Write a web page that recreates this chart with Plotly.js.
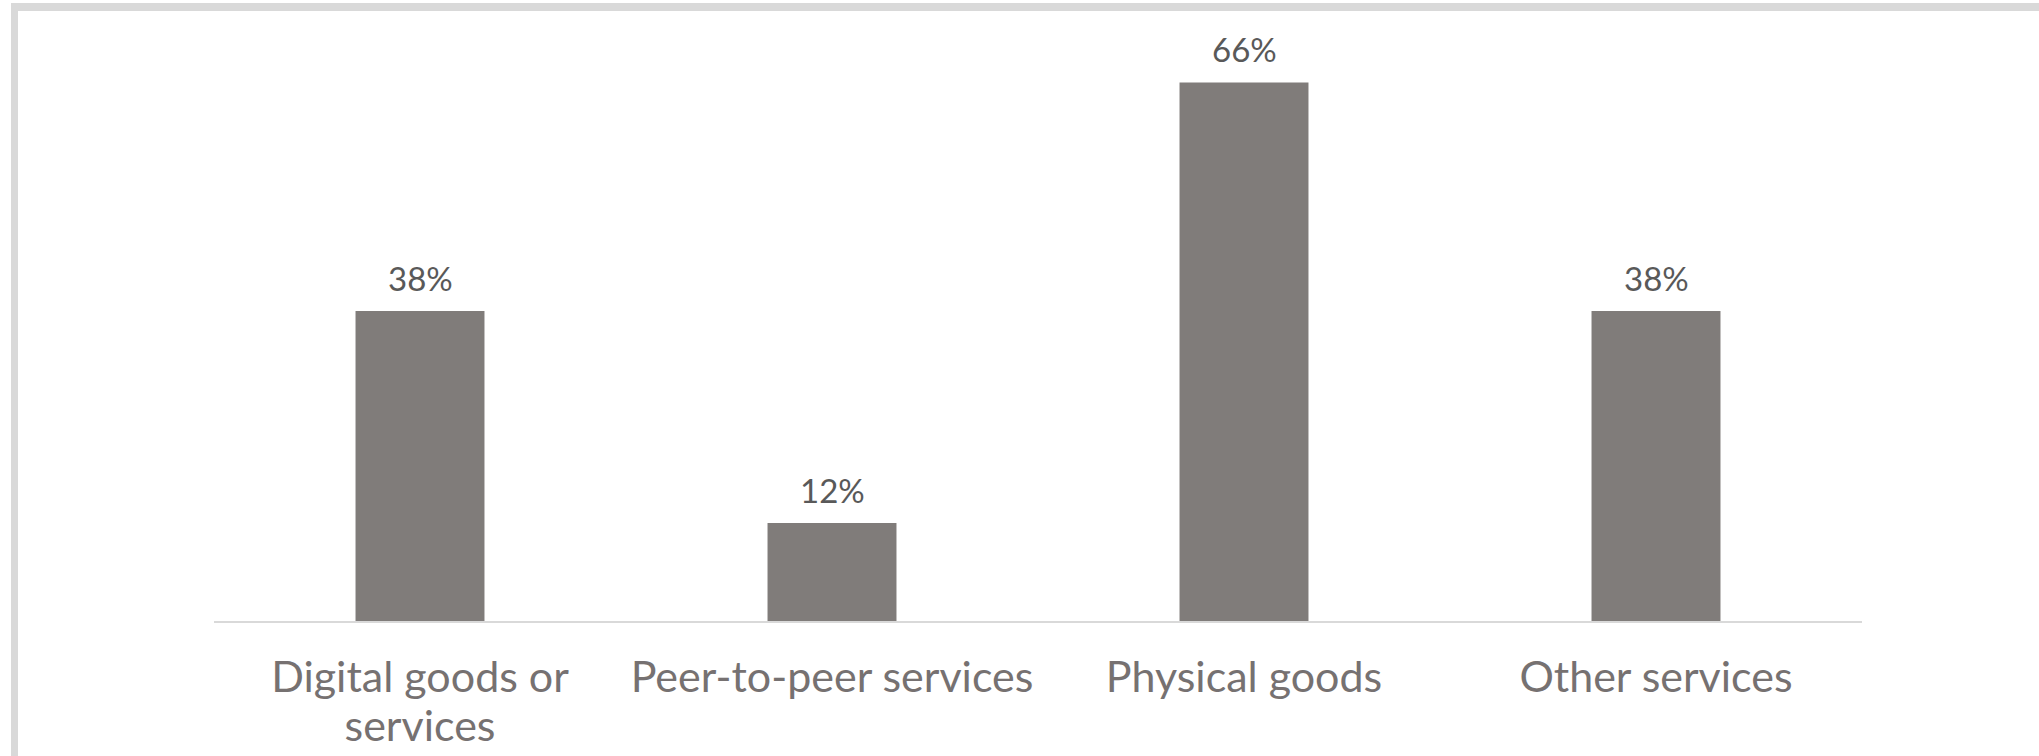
<!DOCTYPE html>
<html>
<head>
<meta charset="utf-8">
<script src="https://cdn.plot.ly/plotly-3.0.1.min.js"></script>
<style>
  html, body { margin: 0; padding: 0; background: #ffffff; overflow: hidden; }
  #chart { position: absolute; left: 0; top: 0; width: 2039px; height: 756px; }
  #frame {
    position: absolute; left: 11px; top: 3px; width: 2100px; height: 750px;
    border-left: 7px solid #d9d9d9; border-top: 8px solid #d9d9d9; border-bottom: 8px solid #d9d9d9;
    box-sizing: content-box; pointer-events: none;
  }
</style>
</head>
<body>
<div id="chart"></div>
<div id="frame"></div>
<script>
const categories = ["Digital goods or<br>services", "Peer-to-peer services", "Physical goods", "Other services"];
const values = [0.38, 0.12, 0.66, 0.38];
const valueLabels = ["38%", "12%", "66%", "38%"];

const trace = {
  type: "bar",
  x: categories,
  y: values,
  marker: { color: "#807c7a" },
  hoverinfo: "skip"
};

const annotations = categories.map((c, i) => ({
  x: c, y: values[i], xref: "x", yref: "y",
  text: valueLabels[i], showarrow: false,
  yanchor: "bottom", yshift: 11,
  font: { family: "Lato, 'Open Sans', sans-serif", size: 33, color: "#595959" }
}));

// tick labels: larger glyphs with tighter line spacing
const tickText = categories.map(c => c.split("<br>")
  .map(s => '<span style="font-size:43px">' + s + '</span>').join("<br>"));

const layout = {
  width: 2039, height: 756,
  margin: { l: 214, r: 177, t: 9, b: 135 },
  paper_bgcolor: "rgba(0,0,0,0)",
  plot_bgcolor: "rgba(0,0,0,0)",
  showlegend: false,
  bargap: 0.687,
  xaxis: {
    type: "category",
    tickmode: "array", tickvals: categories, ticktext: tickText,
    showline: true, linecolor: "#d9d9d9", linewidth: 2,
    showgrid: false, zeroline: false, ticks: "",
    ticklabelstandoff: 25,
    tickfont: { family: "Lato, 'Open Sans', sans-serif", size: 37, color: "#767171" }
  },
  yaxis: {
    range: [0, 0.75], visible: false, showgrid: false, zeroline: false
  },
  annotations: annotations
};

Plotly.newPlot("chart", [trace], layout, { displayModeBar: false, staticPlot: true });
</script>
</body>
</html>
